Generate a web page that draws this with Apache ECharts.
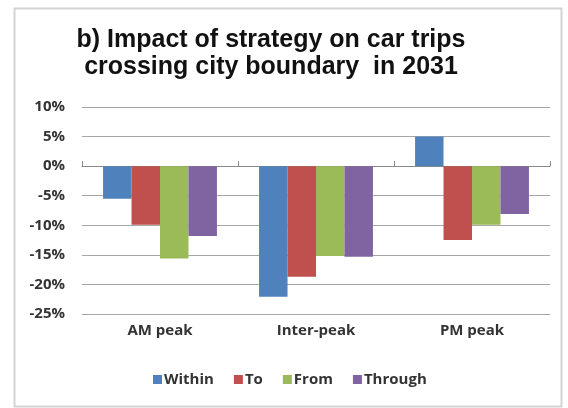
<!DOCTYPE html>
<html><head><meta charset="utf-8">
<script src="https://cdn.jsdelivr.net/npm/echarts@6/dist/echarts.min.js"></script>
<style>html,body{margin:0;padding:0;background:#fff}#c{width:568px;height:408px}</style>
</head><body><div id="c"></div>
<script>
const categories = ['AM peak', 'Inter-peak', 'PM peak'];
const seriesNames = ['Within', 'To', 'From', 'Through'];
const within = [-5.5, -22.1, 5.0];
const to = [-9.9, -18.7, -12.5];
const from = [-15.6, -15.2, -9.9];
const through = [-11.8, -15.3, -8.1];
const yTicks = [-25, -20, -15, -10, -5, 0, 5, 10];
const colors = ['#4F81BD', '#C0504D', '#9BBB59', '#8064A2'];
const values = [within, to, from, through];

const chart = echarts.init(document.getElementById('c'));
chart.setOption({
  animation: false,
  graphic: [{
    type: 'rect', left: 12, top: 6, shape: {width: 547, height: 398},
    style: {fill: 'none', stroke: '#d4d4d4', lineWidth: 2}, silent: true
  }],
  title: {
    text: 'b) Impact of strategy on car trips\ncrossing city boundary  in 2031',
    left: 266, textAlign: 'center', top: 22,
    textStyle: {fontFamily: 'Liberation Sans', fontSize: 25, fontWeight: 'bold', color: '#111', lineHeight: 27}
  },
  legend: {
    bottom: 16, left: 148, itemWidth: 9, itemHeight: 9, itemGap: 20,
    icon: 'rect',
    textStyle: {fontFamily: 'Open Sans', fontSize: 15, fontWeight: 'bold', color: '#333', padding: [0,0,0,-3]},
    data: seriesNames
  },
  grid: {left: 82, right: 18, top: 107, bottom: 94},
  xAxis: [{
    type: 'category', data: categories, position: 'bottom',
    axisLine: {show: false, onZero: false}, axisTick: {show: false},
    axisLabel: {fontFamily: 'Open Sans', fontSize: 15, fontWeight: 'bold', color: '#333', margin: 9}
  }, {
    type: 'category', data: categories,
    axisLine: {show: true, onZero: true, lineStyle: {color: '#888', width: 1}},
    axisTick: {show: true, inside: false, length: 5, lineStyle: {color: '#888'}},
    axisLabel: {show: false}
  }],
  yAxis: {
    type: 'value', min: yTicks[0], max: yTicks[yTicks.length - 1], interval: 5,
    axisLine: {show: false}, axisTick: {show: false},
    splitLine: {lineStyle: {color: '#a6a6a6', width: 1}},
    axisLabel: {formatter: v => v + '%', fontFamily: 'Open Sans', fontSize: 15, fontWeight: 'bold', color: '#333', margin: 17}
  },
  series: seriesNames.map((n, i) => ({
    name: n, type: 'bar', data: values[i], xAxisIndex: 0,
    barGap: '0%', barCategoryGap: '27%',
    itemStyle: {color: colors[i]}
  }))
});
</script></body></html>
